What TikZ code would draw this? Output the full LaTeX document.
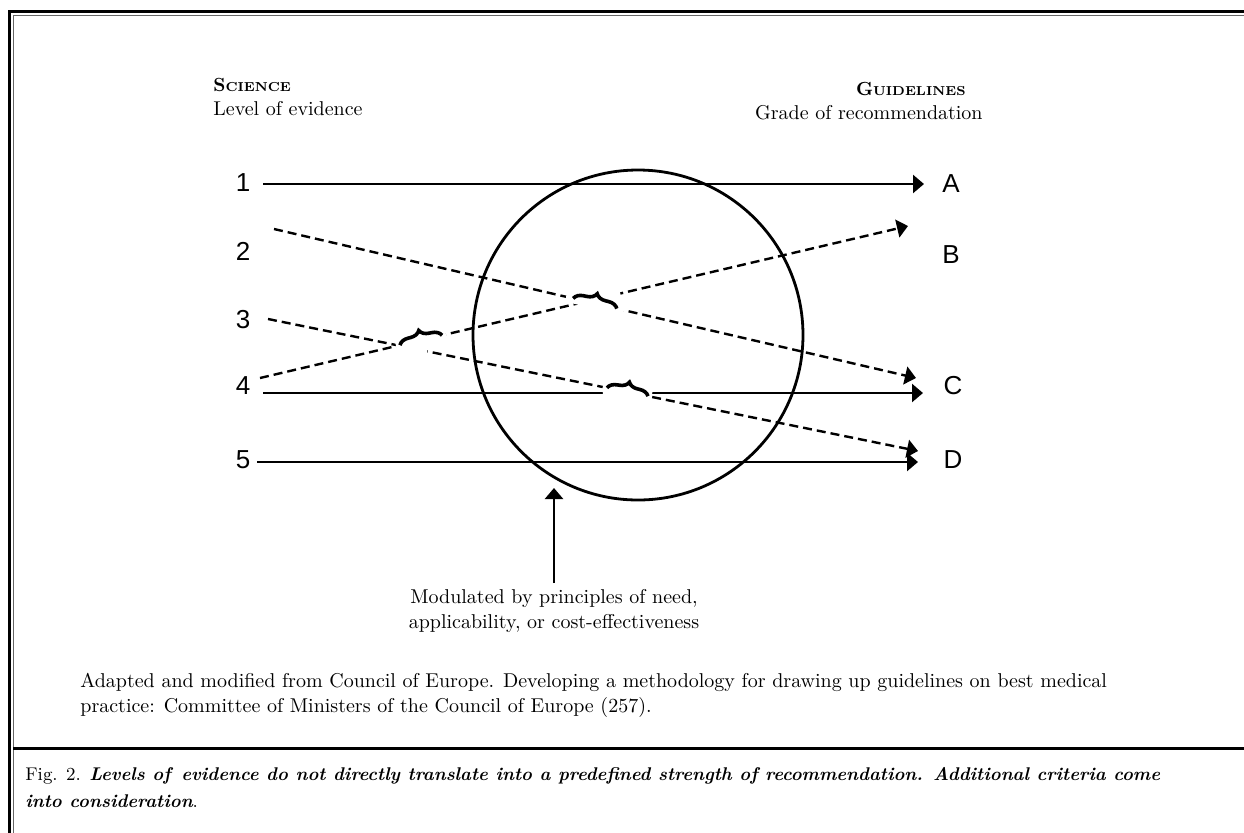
\documentclass[tikz,border=0pt]{standalone}
\usepackage{fontspec}
\newfontfamily\lblfont{Liberation Sans}
\usetikzlibrary{arrows.meta,decorations.pathreplacing,calc}
\newcommand{\hdcaps}[2]{{\bfseries\fontsize{9.5}{11}\selectfont #1\fontsize{6.5}{8}\selectfont #2}}

\begin{document}
\begin{tikzpicture}[x=0.5pt,y=-0.5pt,
  >={Triangle[length=5.5pt,width=9pt]},
  lvl/.style={font=\lblfont\fontsize{13}{15}\selectfont,inner sep=0pt},
  txt/.style={font=\fontsize{10}{12.5}\selectfont,inner sep=0pt},
  solidarr/.style={->,line width=1.25pt},
  dasharr/.style={->,line width=1.2pt,dash pattern=on 4.5pt off 2.5pt},
  cutout/.style={white,line width=5pt},
  hop/.style={decorate,decoration={brace,amplitude=5pt},line width=1.8pt}]
  \useasboundingbox (0,0) rectangle (1244,832);
  % frame
  \draw[line width=1.5pt] (9.5,840) -- (9.5,11.5) -- (1250,11.5);
  \draw[line width=0.5pt,black!60] (13,840) -- (13,15) -- (1250,15);
  \draw[line width=1.5pt] (13,748) -- (1250,748);

  % headings
  \node[txt,anchor=base west] (sci) at (213,91) {\hdcaps{S}{CIENCE}};
  \node[txt,anchor=base west] (sciLvl) at (213,115) {Level of evidence};
  \node[txt,anchor=base east] (gdl) at (966,95) {\hdcaps{G}{UIDELINES}};
  \node[txt,anchor=base east] (gdlGrd) at (983,119) {Grade of recommendation};

  % levels and grades
  \node[lvl] (n1) at (243,183) {1};
  \node[lvl] (n2) at (243,251) {2};
  \node[lvl] (n3) at (243,320) {3};
  \node[lvl] (n4) at (243,386) {4};
  \node[lvl] (n5) at (243,460) {5};
  \node[lvl] (gA) at (951,184) {A};
  \node[lvl] (gB) at (951,255) {B};
  \node[lvl] (gC) at (953,386) {C};
  \node[lvl] (gD) at (953,460) {D};

  \node[draw,circle,line width=1.4pt,minimum size=165pt,inner sep=0pt] (ring) at (638,335) {};

  \coordinate (f1) at (263,184);  \coordinate (tA) at (924,184);
  \coordinate (f2) at (274,229);  \coordinate (tC2) at (916,378);
  \coordinate (f3) at (268,319);  \coordinate (tD3) at (918,451);
  \coordinate (f4d) at (260,378); \coordinate (tB) at (908,226);
  \coordinate (f4) at (263,393);  \coordinate (tC) at (923,393);
  \coordinate (f5) at (257,462);  \coordinate (tD) at (918,462);

  \draw[solidarr] (f1) -- (tA);
  \draw[dasharr] (f2) -- (tC2);
  \draw[dasharr] (f3) -- (tD3);
  \draw[dasharr] (f4d) -- (tB);
  \draw[solidarr] (f4) -- (tC);
  \draw[solidarr] (f5) -- (tD);

  % crossings
  \draw[cutout] ($(f2)!0.455!(tC2)$) -- ($(f2)!0.545!(tC2)$);
  \draw[cutout] ($(f4d)!0.498!(tB)$) -- ($(f4d)!0.556!(tB)$);
  \draw[cutout] ($(f4d)!0.21!(tB)$) -- ($(f4d)!0.287!(tB)$);
  \draw[cutout] ($(f3)!0.203!(tD3)$) -- ($(f3)!0.245!(tD3)$);
  \draw[cutout] ($(f3)!0.515!(tD3)$) -- ($(f3)!0.59!(tD3)$);
  \draw[cutout] ($(f4)!0.515!(tC)$) -- ($(f4)!0.586!(tC)$);
  \draw[hop] ($(f2)!0.466!(tC2)$) -- ($(f2)!0.534!(tC2)$);
  \draw[hop] ($(f4d)!0.216!(tB)$) -- ($(f4d)!0.281!(tB)$);
  \draw[hop] ($(f3)!0.5215!(tD3)$) -- ($(f3)!0.5846!(tD3)$);

  % modulation
  \coordinate (tM) at (554,488);
  \node[txt,align=center,anchor=north] (modnote) at (554,589)
    {Modulated by principles of need,\\applicability, or cost-effectiveness};
  \draw[solidarr] ($(modnote.north)+(0,-6)$) -- (tM);

  \node[txt,align=left,anchor=north west] (src) at (80,673)
    {Adapted and modified from Council of Europe. Developing a methodology for drawing up guidelines on best medical\\
     practice: Committee of Ministers of the Council of Europe (257).};

  \node[align=left,anchor=north west,inner sep=0pt,font=\fontsize{9.2}{13.5}\selectfont] (cap) at (25,767)
    {Fig. 2. \textit{\textbf{Levels of\, evidence do not directly translate into a predefined strength of recommendation. Additional criteria come}}\\
     \textit{\textbf{into consideration}}.};
\end{tikzpicture}
\end{document}
